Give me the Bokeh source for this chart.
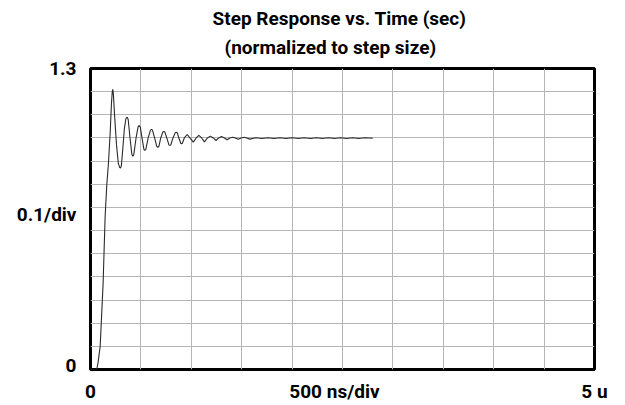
from bokeh.plotting import figure
from bokeh.models import Range1d, FixedTicker, Title
from bokeh.embed import file_html
from bokeh.resources import INLINE

# ---- data (time in microseconds, response normalised) ----
t_us = [
    0.000, 0.062, 0.075, 0.096, 0.110, 0.125, 0.145, 0.162, 0.178, 0.195, 0.208, 0.216,
    0.221, 0.227, 0.240, 0.258, 0.276, 0.290, 0.298, 0.306, 0.320, 0.336, 0.352, 0.364,
    0.374, 0.392, 0.410, 0.420, 0.430, 0.452, 0.472, 0.483, 0.494, 0.511, 0.530, 0.539,
    0.549, 0.572, 0.595, 0.605, 0.615, 0.636, 0.658, 0.668, 0.678, 0.697, 0.718, 0.727,
    0.737, 0.757, 0.778, 0.787, 0.797, 0.818, 0.841, 0.850, 0.860, 0.877, 0.895, 0.903,
    0.911, 0.931, 0.959, 0.990, 1.020, 1.048, 1.075, 1.103, 1.130, 1.160, 1.190, 1.218,
    1.245, 1.272, 1.300, 1.328, 1.355, 1.382, 1.410, 1.437, 1.465, 1.495, 1.525, 1.550,
    1.580, 1.640, 1.700, 1.760, 1.820, 1.880, 1.940, 2.000, 2.060, 2.120, 2.180, 2.240,
    2.300, 2.360, 2.420, 2.480, 2.540, 2.600, 2.660, 2.720, 2.800,
]
response = [
    0.000, 0.000, 0.030, 0.100, 0.230, 0.370, 0.660, 0.800, 0.890, 1.020, 1.150, 1.200,
    1.210, 1.190, 1.090, 0.970, 0.890, 0.872, 0.870, 0.880, 0.950, 1.040, 1.085, 1.090,
    1.080, 1.000, 0.930, 0.921, 0.930, 1.000, 1.048, 1.054, 1.047, 1.000, 0.951, 0.946,
    0.951, 1.000, 1.034, 1.037, 1.034, 1.000, 0.963, 0.960, 0.963, 1.000, 1.026, 1.028,
    1.026, 1.000, 0.970, 0.968, 0.970, 1.000, 1.023, 1.025, 1.023, 1.000, 0.977, 0.975,
    0.977, 1.000, 1.015, 0.998, 0.982, 1.000, 1.011, 1.000, 0.983, 1.000, 1.008, 1.000,
    0.989, 1.000, 1.006, 1.000, 0.992, 1.000, 1.003, 1.000, 0.994, 1.000, 1.003, 1.000,
    0.995, 1.001, 0.998, 1.001, 0.998, 1.001, 0.998, 1.001, 0.998, 1.001, 0.998, 1.001,
    0.998, 1.001, 0.998, 1.001, 0.998, 1.001, 0.998, 1.001, 0.999,
]

title_lines = ["Step Response vs. Time (sec)", "(normalized to step size)"]
x_grid = [0.5, 1.0, 1.5, 2.0, 2.5, 3.0, 3.5, 4.0, 4.5]
y_grid = [0.1, 0.2, 0.3, 0.4, 0.5, 0.6, 0.7, 0.8, 0.9, 1.0, 1.1, 1.2]
x_label_pos = [0, 2.42, 5]
x_labels = ["0", "500 ns/div", "5 u"]
y_label_pos = [0.017, 0.67, 1.3]
y_labels = ["0", "0.1/div", "1.3"]

FONT = "Roboto"
FSIZE = "19px"

p = figure(width=625, height=405, title=None,
           x_range=Range1d(0, 5), y_range=Range1d(0, 1.3),
           output_backend="svg", toolbar_location=None,
           min_border_left=90, min_border_right=31,
           min_border_top=68, min_border_bottom=36,
           background_fill_color="white", border_fill_color="white")

p.line(t_us, response, line_color="#2a2a2a", line_width=1.1)

p.xgrid.ticker = FixedTicker(ticks=x_grid)
p.ygrid.ticker = FixedTicker(ticks=y_grid)
p.grid.grid_line_color = "#b5b5b5"
p.grid.grid_line_width = 1
p.grid.grid_line_alpha = 1.0

p.xaxis.ticker = FixedTicker(ticks=x_label_pos)
p.xaxis.major_label_overrides = {k: v for k, v in zip(x_label_pos, x_labels)}
p.yaxis.ticker = FixedTicker(ticks=y_label_pos)
p.yaxis.major_label_overrides = {k: v for k, v in zip(y_label_pos, y_labels)}

p.axis.axis_line_color = None
p.axis.major_tick_line_color = None
p.axis.minor_tick_line_color = None
p.axis.major_tick_out = 0
p.axis.major_tick_in = 0
p.axis.major_label_text_font = FONT
p.axis.major_label_text_font_style = "bold"
p.axis.major_label_text_font_size = FSIZE
p.axis.major_label_text_color = "black"
p.yaxis.major_label_standoff = 14
p.xaxis.major_label_standoff = 10

p.outline_line_color = "black"
p.outline_line_width = 3
p.outline_line_alpha = 1.0

# second line first: it sits closest to the frame
p.add_layout(Title(text=title_lines[1], align="left", offset=134, standoff=20,
                   vertical_align="bottom", text_font=FONT, text_font_style="bold",
                   text_font_size=FSIZE, text_color="black"), "above")
p.add_layout(Title(text=title_lines[0], align="left", offset=122, standoff=-12,
                   vertical_align="bottom", text_font=FONT, text_font_style="bold",
                   text_font_size=FSIZE, text_color="black"), "above")

open("out.html", "w").write(file_html(p, INLINE))
